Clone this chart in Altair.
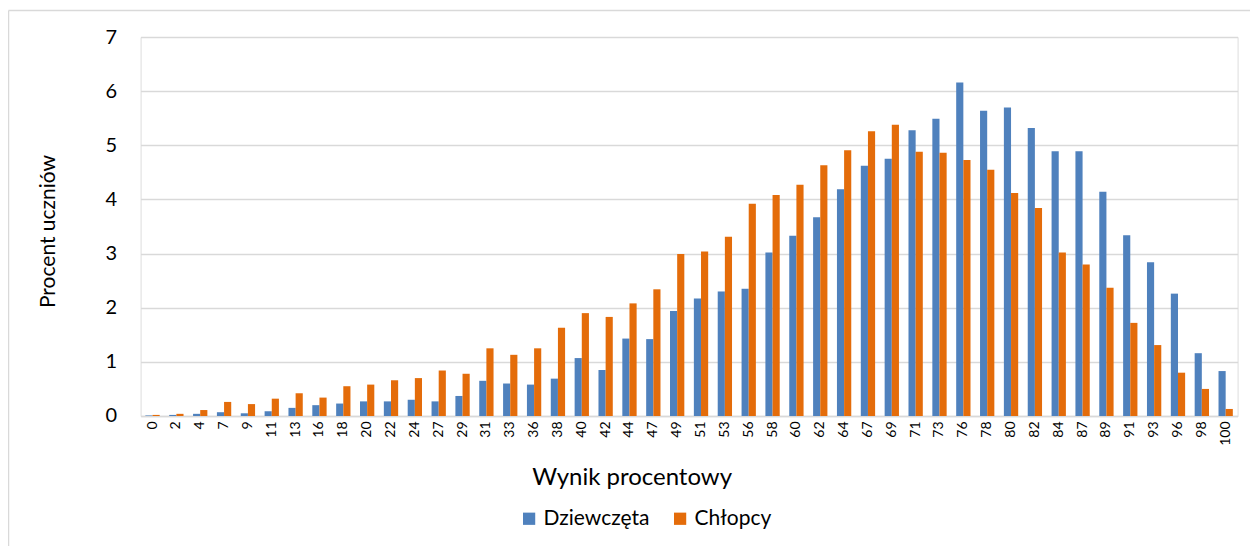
import altair as alt
import pandas as pd

categories = ["0", "2", "4", "7", "9", "11", "13", "16", "18", "20", "22", "24", "27", "29",
              "31", "33", "36", "38", "40", "42", "44", "47", "49", "51", "53", "56", "58",
              "60", "62", "64", "67", "69", "71", "73", "76", "78", "80", "82", "84", "87",
              "89", "91", "93", "96", "98", "100"]

dziewczeta = [0.01, 0.02, 0.04, 0.07, 0.05, 0.09, 0.15, 0.20, 0.23, 0.27, 0.27, 0.30, 0.27, 0.37,
              0.65, 0.60, 0.58, 0.69, 1.07, 0.85, 1.43, 1.42, 1.94, 2.17, 2.30, 2.35, 3.02,
              3.33, 3.67, 4.19, 4.62, 4.75, 5.28, 5.49, 6.16, 5.64, 5.70, 5.32, 4.89, 4.89,
              4.14, 3.34, 2.84, 2.26, 1.16, 0.83]

chlopcy = [0.02, 0.04, 0.11, 0.26, 0.22, 0.32, 0.42, 0.34, 0.55, 0.58, 0.66, 0.70, 0.84, 0.78,
           1.25, 1.13, 1.25, 1.63, 1.90, 1.83, 2.08, 2.34, 2.99, 3.04, 3.31, 3.92, 4.08,
           4.27, 4.63, 4.91, 5.26, 5.38, 4.88, 4.86, 4.73, 4.55, 4.12, 3.84, 3.02, 2.80,
           2.37, 1.72, 1.31, 0.80, 0.50, 0.13]

series = ["Dziewczęta", "Chłopcy"]
colors = ["#4F81BD", "#E46C0A"]

rows = []
for c, d, b in zip(categories, dziewczeta, chlopcy):
    rows.append({"wynik": c, "grupa": series[0], "procent": d})
    rows.append({"wynik": c, "grupa": series[1], "procent": b})
df = pd.DataFrame(rows)

FONT = "Lato"
W, H = 1097, 379

bars = alt.Chart(df).mark_bar().encode(
    x=alt.X("wynik:N", sort=categories,
            scale=alt.Scale(paddingInner=0.4, paddingOuter=0.2),
            axis=alt.Axis(title="Wynik procentowy", labelAngle=-90, labelFontSize=14,
                          labelPadding=5, ticks=False, domainColor="#D9D9D9",
                          domainWidth=1.5, titleFontSize=24, titleFontWeight="normal",
                          titleX=491, titleY=62, titleBaseline="middle",
                          titleColor="#000000", labelColor="#000000")),
    xOffset=alt.XOffset("grupa:N", sort=series, scale=alt.Scale(paddingInner=0, paddingOuter=0)),
    y=alt.Y("procent:Q",
            scale=alt.Scale(domain=[0, 7], nice=False),
            axis=alt.Axis(title="Procent uczniów", values=[0, 1, 2, 3, 4, 5, 6, 7],
                          format="d", labelFontSize=20, labelPadding=24, ticks=False,
                          domain=False, gridColor="#D9D9D9", gridWidth=1.5,
                          titleFontSize=21, titleFontWeight="normal",
                          titleX=-92, titleY=194, titleBaseline="middle",
                          titleAngle=-90, titleColor="#000000", labelColor="#000000")),
    color=alt.Color("grupa:N", sort=series,
                    scale=alt.Scale(domain=series, range=colors),
                    legend=alt.Legend(title=None, orient="none", direction="horizontal",
                                      legendX=378, legendY=471, symbolType="square",
                                      symbolSize=150, labelFontSize=21, columnPadding=20,
                                      symbolStrokeWidth=0, labelColor="#000000",
                                      labelFont=FONT)),
)

frame = pd.DataFrame({"a": [0]})
left_line = alt.Chart(frame).mark_rule(stroke="#D9D9D9", strokeWidth=1.5).encode(
    x=alt.value(-132.1), y=alt.value(-26.5), y2=alt.value(H + 200),
)
top_line = alt.Chart(frame).mark_rule(stroke="#D9D9D9", strokeWidth=1.5).encode(
    x=alt.value(-132.1), x2=alt.value(W + 200), y=alt.value(-26.5),
)

chart = alt.layer(left_line, top_line, bars).properties(
    width=W, height=H,
    autosize=alt.AutoSizeParams(type="none"),
    padding={"left": 132.6, "top": 29, "right": 12, "bottom": 130},
).configure_view(stroke=None).configure(font=FONT).configure_axis(
    labelFont=FONT, titleFont=FONT
)

chart.save("out.html", embed_options={"renderer": "svg", "actions": False})
